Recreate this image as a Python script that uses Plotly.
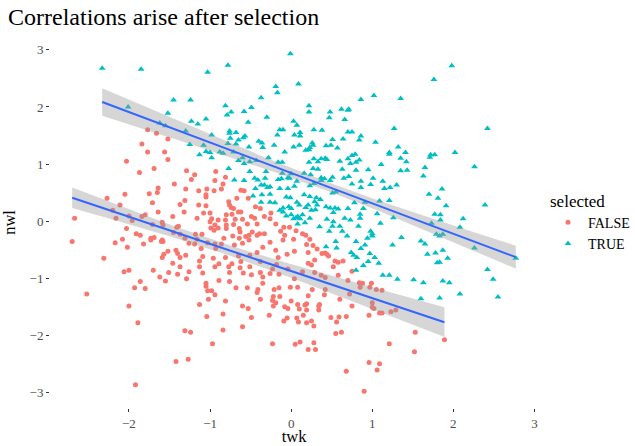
import numpy as np
import plotly.graph_objects as go

# ---------------- data ----------------
false_twk = [
    -1.77, -1.66, -1.52, -1.84, -1.77, -1.56, -1.52, -2.03,
    -1.87, -1.69, -1.44, -1.64, -1.65, -1.75, -2.05, -2.27, -1.71, -2.11,
    -1.37, -2.20, -1.64, -1.80, -1.84, -1.46, -2.67, -2.16, -2.00, -1.96,
    -1.71, -1.59, -1.58, -1.41, -1.39, -2.03, -1.45, -1.37, -1.91, -1.86,
    -2.08, -1.73, -1.73, -1.69, -1.60, -1.59, -1.58, -2.70, -2.17, -1.82,
    -2.02, -1.52, -1.42, -1.40, -1.57, -1.59, -1.37, -2.31, -1.46, -1.37,
    -1.70, -2.00, -2.06, -1.51, -1.40, -1.62, -1.86, -1.55,
    -1.29, -1.19, -1.23, -0.93, -0.94, -0.81, -0.84, -1.30, -1.14, -1.04,
    -0.95, -0.86, -0.62, -0.58, -1.05, -1.05, -1.31, -0.77, -0.67, -0.53,
    -1.14, -1.05, -0.76, -0.74, -0.71, -0.65, -0.62, -0.44, -0.38, -0.25,
    -1.32, -1.08, -1.00, -0.80, -0.73, -0.49, -0.33, -1.16, -0.98, -0.90,
    -0.81, -0.69, -0.60, -0.45, -0.26, -1.00, -0.94, -0.80, -0.71, -0.54,
    -0.42, -0.19, -0.09, -0.02, -0.99, -0.90, -0.80, -0.64, -0.95, -0.63,
    -0.48, -0.39, -0.33, -0.13, 0.06, -1.18, -1.10, -0.72, -0.56, -0.52,
    -0.42, -0.08, -1.31, -1.16, -0.83, -0.64, -0.52, -0.26, -0.10, 0.03,
    -1.26, -1.19, -1.03, -0.94, -0.86, -0.70, -0.60, -0.35, -1.11, -0.93,
    -0.19, -1.30, -1.09, -0.96, -0.81, -0.65, -0.51, -0.42, -0.16, -0.05,
    0.04, -1.13, -0.89, -0.73, -0.62, -0.38, -0.18, -1.13, -0.94, -0.77,
    -0.63, -0.51, -0.23, -0.04, -1.26, -1.09, -0.76, -0.59, -0.49, -0.38,
    -0.26, -0.15, -1.29, -0.89, -0.35, -1.05, -0.76, -0.35, 0.04,
    0.14, 0.18, 0.23, 0.19, 0.27, 0.32, 0.38, 0.42, 0.44, 0.46,
    0.21, 0.29, 0.21, 0.25, 0.54, 0.58, 0.64, 0.52, 0.75, 0.14,
    0.29, 0.37, 0.42, 0.58, 0.70, 0.84, 0.88, 0.99,
    -2.52, -1.93, -1.80, -2.00, -1.89, -1.42, -1.92,
    -1.05, -1.03, -0.98, -0.94, -1.02, -1.13, -0.81, -0.68, -0.54, -0.41,
    -0.42, -0.21, -0.15, -0.01, 0.08, -0.22, -0.14, -0.23, -0.19, -0.38,
    0.00, -0.22, -0.60, -0.53, -0.08, -0.04, 0.08, 0.10, -0.84, -1.04,
    -0.49, -0.27, -0.05, -0.09, 0.07, 0.09, -0.60, -0.84, -1.31, -1.24,
    -0.97, -0.23, 0.05, 0.11, -1.27,
    0.26, 0.42, 0.85, 0.97, 1.05, 1.12, 0.21, 0.41, 0.72, 0.60,
    0.19, 0.17, 0.35, 0.34, 0.19, 0.34, 0.75, 1.00, 1.00, 1.02,
    1.09, 1.12, 1.23, 1.29, 0.15, 0.49, 0.59, 0.68, 0.96, 0.25,
    0.19, 0.56, 0.28, 0.62, 0.55, 1.53, 0.28, 1.21, 0.21, 0.30,
    1.52, 0.96, 1.09, 1.06, 0.68, 0.90,
    1.89,
]
false_nwl = [
    1.60, 1.54, 1.44, 1.35, 1.21, 1.21, 1.08, 1.05,
    0.85, 0.92, 0.65, 0.58, 0.50, 0.48, 0.47, 0.40, 0.32, 0.28,
    0.29, 0.19, 0.16, 0.11, 0.08, 0.08, 0.05, 0.05, 0.09, 0.01,
    -0.06, -0.02, -0.07, -0.11, -0.09, -0.13, -0.20, -0.23, -0.22, -0.25,
    -0.32, -0.30, -0.33, -0.29, -0.36, -0.33, -0.36, -0.36, -0.38, -0.40,
    -0.46, -0.53, -0.51, -0.57, -0.58, -0.64, -0.64, -0.65, -0.74, -0.80,
    -0.86, -0.86, -0.89, -0.90, -0.93, -0.98, -1.06, -1.05,
    0.88, 0.81, 0.73, 0.87, 0.71, 0.77, 0.65, 0.56, 0.53, 0.56,
    0.53, 0.56, 0.54, 0.53, 0.46, 0.42, 0.36, 0.34, 0.40, 0.40,
    0.28, 0.27, 0.28, 0.24, 0.22, 0.16, 0.16, 0.25, 0.22, 0.14,
    0.16, 0.14, 0.14, 0.11, 0.12, 0.08, 0.08, 0.05, 0.04, 0.02,
    0.02, 0.03, 0.03, 0.05, 0.04, -0.01, -0.07, -0.07, -0.06, -0.05,
    -0.05, -0.05, -0.11, -0.11, -0.12, -0.12, -0.13, -0.13, -0.16, -0.19,
    -0.19, -0.22, -0.22, -0.18, -0.17, -0.23, -0.23, -0.26, -0.27, -0.25,
    -0.25, -0.25, -0.30, -0.32, -0.30, -0.30, -0.33, -0.37, -0.33, -0.32,
    -0.39, -0.40, -0.38, -0.40, -0.40, -0.42, -0.39, -0.46, -0.48, -0.48,
    -0.51, -0.60, -0.62, -0.65, -0.64, -0.61, -0.60, -0.55, -0.64, -0.58,
    -0.53, -0.70, -0.75, -0.75, -0.71, -0.71, -0.76, -0.80, -0.80, -0.80,
    -0.82, -0.80, -0.84, -0.84, -0.89, -0.91, -0.90, -0.91, -0.94, -0.90,
    -0.92, -0.93, -1.01, -1.04, -0.98, -1.09, -1.06, -1.09, -1.01,
    -0.22, -0.25, -0.32, -0.41, -0.43, -0.49, -0.57, -0.56, -0.58, -0.61,
    -0.55, -0.68, -0.74, -0.77, -0.70, -0.72, -0.70, -0.80, -0.88, -0.89,
    -0.90, -0.95, -0.99, -0.95, -1.04, -1.08, -1.09, -1.09,
    -1.28, -1.17, -1.18, -1.49, -1.78, -2.46, -2.87,
    -1.14, -1.22, -1.22, -1.29, -1.37, -1.46, -1.40, -1.17, -1.17, -1.20,
    -1.25, -1.20, -1.17, -1.16, -1.16, -1.32, -1.32, -1.39, -1.43, -1.37,
    -1.40, -1.49, -1.49, -1.53, -1.50, -1.53, -1.46, -1.54, -1.63, -1.67,
    -1.69, -1.65, -1.70, -1.75, -1.70, -1.77, -1.85, -1.91, -1.92, -1.95,
    -2.15, -2.15, -2.16, -2.12, -2.42,
    -1.20, -1.20, -1.16, -1.16, -1.20, -1.21, -1.31, -1.29, -1.28, -1.37,
    -1.45, -1.47, -1.46, -1.49, -1.56, -1.56, -1.49, -1.43, -1.51, -1.53,
    -1.61, -1.61, -1.59, -1.56, -1.65, -1.69, -1.68, -1.67, -1.65, -1.75,
    -1.78, -1.77, -1.84, -1.95, -1.97, -1.95, -2.13, -2.15, -2.25, -2.25,
    -2.29, -2.48, -2.50, -2.61, -2.63, -2.98,
    -2.08,
]

true_twk = [
    -2.33, -1.85, -1.45, -2.01, -1.52, -1.62, -1.55,
    -0.01, -1.03, -0.78, -0.19, 0.09, -0.17, -0.37, -1.24, -0.81, -0.49,
    -0.74, -0.79, -0.58, -0.30, -1.05, -1.23, -1.15, -0.53, 0.03, 0.07,
    -0.14, -0.10, -0.17, 0.04, 0.11, 0.11, -0.76, -0.68, -0.76, -0.98,
    -0.57, -0.59, -0.75, -0.65, -0.40, -0.36, -1.30, -1.25, -1.08, -0.78,
    -0.68, -0.52, -0.35, -0.21, 0.03, 0.10, -1.05, -1.00, -0.88, -0.84,
    -0.71, -0.08, -1.13, -0.98, -0.60, -0.28, -0.65, -0.51, -0.43, -0.16,
    -0.11, -0.58,
    1.02, 1.35, 0.86, 0.22, 0.22, 0.62, 0.71, 0.70, 0.48, 0.47,
    0.66, 0.28, 0.38, 1.27, 0.70, 0.75, 0.86, 0.84, 0.51, 0.64,
    1.04, 0.26, 0.27, 0.43, 0.49, 0.57, 1.32, 0.18, 0.22, 0.23,
    1.21, 1.21, 1.41, 0.75, 0.79, 0.28, 0.37, 0.42, 0.44, 0.70,
    0.84, 1.35, 0.60, 0.22, 0.33, 0.73, 0.80, 1.42, 1.11,
    1.98, 1.76, 2.42, 2.02, 1.72, 1.77, 1.71,
    -0.77, -0.51, -0.31, -0.70, -0.58, -0.45, -0.41, -0.32, -0.16, -0.12,
    -0.04, -0.02, 0.07, -0.11, 0.00, -0.37, -0.33, -0.29, -0.26, -0.44,
    -0.14, -0.04, 0.04, -0.47, -0.36, -0.26, -0.06, -0.01, -0.37, -0.26,
    -0.20, 0.07, 0.10, -0.10, -0.03, 0.00, -0.14, -0.10, -0.06, 0.00,
    0.06, 0.08, 0.03, 0.11, 0.08,
    0.27, 0.33, 0.63, 0.80, 0.95, 1.35, 1.43, 0.16, 0.24, 0.37,
    0.41, 0.51, 0.65, 0.71, 1.01, 0.28, 0.37, 0.48, 0.86, 1.13,
    0.23, 0.75, 0.86, 0.98, 1.15, 1.22, 1.30, 0.51, 0.55, 0.16,
    0.23, 0.31, 0.36, 1.09, 1.21, 0.29, 0.78, 0.91, 0.18, 0.21,
    0.32, 0.43, 0.48, 0.54, 0.58, 0.70, 0.89, 0.25, 0.30, 0.52,
    0.85, 1.06, 0.14, 0.23, 0.44, 0.66, 0.73, 0.85, 1.26, 0.17,
    0.52, 1.10, 0.35, 0.51, 0.60, 0.83, 0.98, 1.00, 0.47, 0.63,
    0.69, 1.00, 0.94, 0.80, 0.55, 0.43, 0.56, 0.91, 1.25, 1.36,
    0.86, 0.74, 0.77, 0.81, 0.97, 0.89, 0.95, 1.03, 1.08, 1.13,
    1.21, 1.31, 1.51, 0.80,
    1.65, 2.26, 1.63, 1.86, 1.70, 1.81, 1.91, 2.39, 1.77, 1.84,
    1.84, 2.12, 1.73, 2.08, 1.79, 1.83, 1.87, 1.60, 1.65, 2.26,
    1.87, 1.68, 1.78, 1.93, 1.80, 1.83, 2.77, 2.42, 2.49, 1.87,
    1.95, 1.63,
    1.60, 1.83, 2.08, 2.55,
]
true_nwl = [
    2.68, 2.66, 2.12, 2.00, 1.89, 1.72, 1.67,
    2.93, 2.61, 2.73, 2.36, 2.40, 2.25, 2.16, 2.12, 2.02, 1.99,
    1.91, 1.86, 1.92, 1.82, 1.79, 1.75, 1.70, 1.73, 1.75, 1.68,
    1.60, 1.60, 1.51, 1.51, 1.55, 1.49, 1.58, 1.55, 1.54, 1.51,
    1.49, 1.46, 1.45, 1.42, 1.40, 1.37, 1.58, 1.34, 1.33, 1.36,
    1.35, 1.30, 1.29, 1.33, 1.30, 1.33, 1.22, 1.20, 1.21, 1.19,
    1.21, 1.21, 1.16, 1.11, 1.11, 1.11, 1.06, 1.04, 1.06, 1.03,
    1.03, 1.01,
    2.20, 2.15, 2.13, 2.02, 1.91, 1.96, 1.96, 1.94, 1.91, 1.81,
    1.78, 1.60, 1.59, 1.62, 1.56, 1.56, 1.49, 1.42, 1.43, 1.44,
    1.38, 1.37, 1.33, 1.32, 1.33, 1.28, 1.30, 1.24, 1.25, 1.29,
    1.20, 1.17, 1.20, 1.15, 1.17, 1.09, 1.09, 1.10, 1.08, 1.09,
    1.07, 1.10, 1.05, 1.03, 1.04, 1.01, 1.03, 1.04, 0.99,
    2.72, 2.48, 1.62, 1.20, 1.16, 1.16, 1.12,
    0.92, 0.87, 0.87, 0.72, 0.71, 0.75, 0.72, 0.75, 0.73, 0.74,
    0.76, 0.75, 0.70, 0.84, 0.83, 0.63, 0.63, 0.59, 0.60, 0.57,
    0.57, 0.57, 0.61, 0.44, 0.46, 0.47, 0.42, 0.41, 0.33, 0.33,
    0.32, 0.33, 0.28, 0.23, 0.25, 0.22, 0.19, 0.16, 0.09, 0.11,
    0.06, 0.08, 0.04, 0.04, -0.05,
    0.92, 0.91, 0.91, 0.89, 0.90, 0.88, 0.89, 0.84, 0.81, 0.76,
    0.74, 0.77, 0.75, 0.78, 0.75, 0.66, 0.71, 0.71, 0.70, 0.70,
    0.62, 0.65, 0.59, 0.64, 0.57, 0.59, 0.63, 0.49, 0.51, 0.46,
    0.43, 0.41, 0.38, 0.35, 0.36, 0.34, 0.32, 0.33, 0.24, 0.28,
    0.28, 0.25, 0.23, 0.23, 0.21, 0.22, 0.22, 0.19, 0.20, 0.15,
    0.12, 0.13, 0.11, 0.05, 0.03, 0.05, 0.02, 0.05, 0.06, -0.03,
    -0.01, -0.04, -0.10, -0.09, -0.09, -0.09, -0.18, -0.22, -0.18, -0.18,
    -0.26, -0.26, -0.30, -0.36, -0.36, -0.45, -0.47, -0.42, -0.42, -0.29,
    -0.48, -0.55, -0.60, -0.64, -0.57, -0.78, -0.71, -0.64, -0.74, -0.95,
    -0.95, -1.02, -1.03, -0.86,
    0.94, 0.95, 0.79, 0.56, 0.47, 0.40, 0.27, 0.28, 0.12, 0.11,
    0.02, 0.04, -0.04, -0.11, -0.23, -0.26, -0.23, -0.35, -0.40, -0.47,
    -0.51, -0.58, -0.56, -0.65, -0.73, -0.72, -0.65, -0.85, -1.02, -1.05,
    -1.08, -1.08,
    -1.36, -1.35, -1.28, -1.33,
]

fit_intercept = [-0.875, 0.844]
fit_slope = [-0.475, -0.533]
band_center_twk = [-0.92, 0.48]
band_min_halfwidth = [0.09, 0.077]
band_growth = [0.087, 0.081]

group_names = ["FALSE", "TRUE"]
group_colors = ["#F8766D", "#00BFC4"]
group_symbols = ["circle", "triangle-up"]
x_ticks = [-2, -1, 0, 1, 2, 3]
y_ticks = [-3, -2, -1, 0, 1, 2, 3]

SERIF = "Liberation Serif, Times New Roman, serif"

groups = [(false_twk, false_nwl), (true_twk, true_nwl)]

fig = go.Figure()
for (gx, gy), name, col, sym in zip(groups, group_names, group_colors, group_symbols):
    m = min(len(gx), len(gy))
    fig.add_trace(go.Scatter(
        x=gx[:m], y=gy[:m], mode="markers", name=name,
        marker=dict(color=col, symbol=sym, size=5 if sym == "circle" else 6, line=dict(width=0)),
    ))

for i, (gx, gy) in enumerate(groups):
    xs = np.linspace(min(gx), max(gx), 80)
    yh = fit_intercept[i] + fit_slope[i] * xs
    hw = np.sqrt(band_min_halfwidth[i] ** 2 + (band_growth[i] * (xs - band_center_twk[i])) ** 2)
    lo, hi = yh - hw, yh + hw
    fig.add_trace(go.Scatter(
        x=np.concatenate([xs, xs[::-1]]), y=np.concatenate([hi, lo[::-1]]),
        fill="toself", fillcolor="rgba(153,153,153,0.4)", line=dict(width=0),
        mode="lines", hoverinfo="skip", showlegend=False,
    ))
    fig.add_trace(go.Scatter(
        x=xs, y=yh, mode="lines", line=dict(color="#3366FF", width=2),
        hoverinfo="skip", showlegend=False,
    ))

all_x = np.array(false_twk + true_twk)
all_y = np.array(false_nwl + true_nwl)
xspan = all_x.max() - all_x.min()
yspan = all_y.max() - all_y.min()
xr = [all_x.min() - 0.05 * xspan, all_x.max() + 0.05 * xspan]
yr = [all_y.min() - 0.05 * yspan, all_y.max() + 0.05 * yspan]

axis_common = dict(
    showgrid=False, zeroline=False, showline=False, automargin=False,
    ticks="outside", ticklen=3, tickwidth=1, tickcolor="#333333",
    tickfont=dict(family=SERIF, size=13, color="#4D4D4D"),
    title_font=dict(family=SERIF, size=16.5, color="black"),
)

fig.update_layout(
    width=635, height=446, autosize=False,
    paper_bgcolor="white", plot_bgcolor="white",
    margin=dict(l=50, r=97, t=37, b=38),
    title=dict(text="Correlations arise after selection", x=8 / 635, xref="container",
               xanchor="left", y=1 - 8 / 446, yref="container", yanchor="top",
               font=dict(family=SERIF, size=24, color="black")),
    xaxis=dict(range=xr, tickvals=x_ticks, title=dict(text="twk", standoff=7), **axis_common),
    yaxis=dict(range=yr, tickvals=y_ticks, title=dict(text="nwl", standoff=14), **axis_common),
    legend=dict(title=dict(text="selected", font=dict(family=SERIF, size=17, color="black")),
                font=dict(family=SERIF, size=14, color="black"),
                xref="container", yref="container",
                x=548 / 635, xanchor="left", y=1 - 222 / 446, yanchor="middle",
                itemwidth=30, tracegroupgap=0, bgcolor="rgba(0,0,0,0)"),
    showlegend=True,
)

fig.write_html(
    "out.html",
    config={"responsive": False, "displayModeBar": False},
    post_script="document.body.style.margin='0';document.documentElement.style.overflow='hidden';",
)
